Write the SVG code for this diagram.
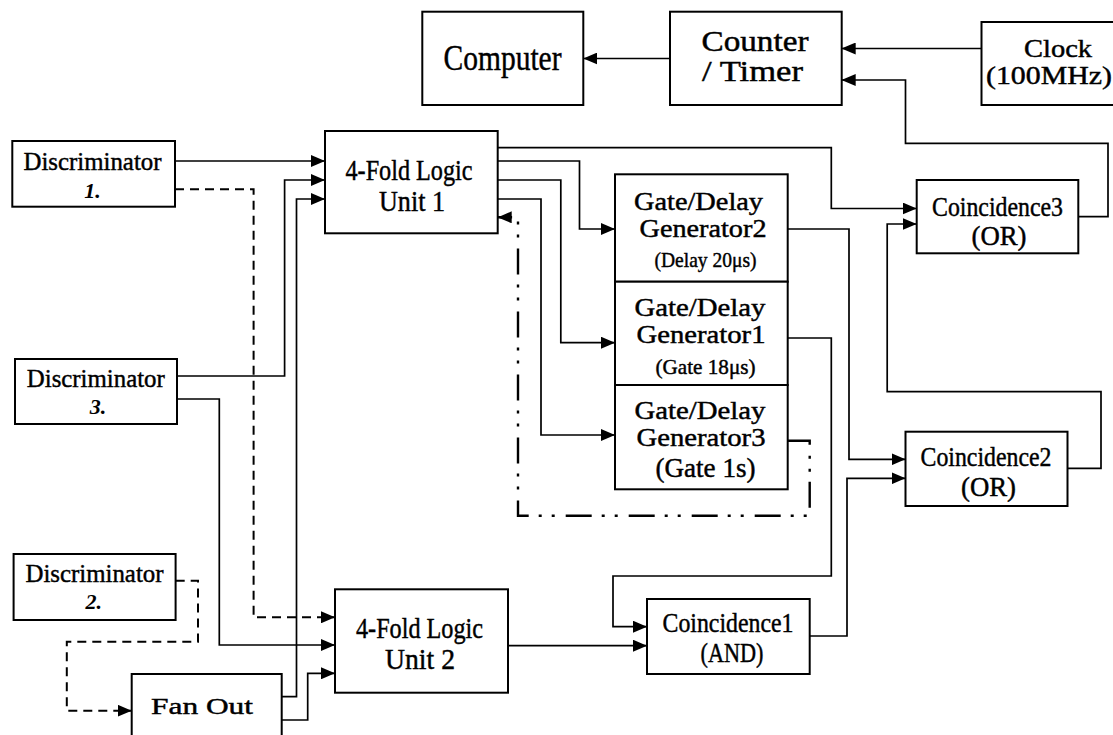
<svg xmlns="http://www.w3.org/2000/svg" width="1113" height="735" viewBox="0 0 1113 735">
<defs>
<marker id="ah" markerUnits="userSpaceOnUse" markerWidth="14" markerHeight="12" refX="14" refY="6" orient="auto"><path d="M0,0 L14,6 L0,12 Z" fill="#000" stroke="none"/></marker>
<style>
.box{fill:#fff;stroke:#000;stroke-width:2}
.ln{fill:none;stroke:#000;stroke-width:1.7}
.ds{fill:none;stroke:#000;stroke-width:2;stroke-dasharray:9 6}
.dd{fill:none;stroke:#000;stroke-width:2.4;stroke-dasharray:26 11 3 10 3 10}
text{font-family:"Liberation Serif","Times New Roman",serif;fill:#000;stroke:#000;stroke-width:0.45;text-anchor:middle}
.c{font-size:26px}
.n{font-size:22px;font-style:italic;font-weight:bold;stroke-width:0}
.lg{font-size:30px}
.g{font-size:26px}
.s{font-size:22px}
</style>
</defs>
<rect width="1113" height="735" fill="#fff"/>
<g id="computer"><rect class="box" x="422.3" y="11.7" width="161" height="93.3"/><text x="502.5" y="70" style="font-size:36px" textLength="118" lengthAdjust="spacingAndGlyphs">Computer</text></g>
<g id="counter"><rect class="box" x="670" y="11.7" width="171.7" height="93.3"/><text x="755" y="51" style="font-size:29px" textLength="107" lengthAdjust="spacingAndGlyphs">Counter</text><text x="752.5" y="81" style="font-size:29px" textLength="101" lengthAdjust="spacingAndGlyphs">/ Timer</text></g>
<g id="clock"><rect class="box" x="981.5" y="22" width="140" height="83"/><text x="1058" y="57" style="font-size:26px" textLength="68" lengthAdjust="spacingAndGlyphs">Clock</text><text x="1049" y="84" style="font-size:26px" textLength="126" lengthAdjust="spacingAndGlyphs">(100MHz)</text></g>
<g id="disc1"><rect class="box" x="12.3" y="141" width="162.7" height="65.7"/><text class="c" x="92.5" y="170" textLength="138" lengthAdjust="spacingAndGlyphs">Discriminator</text><text class="n" x="92.5" y="198">1.</text></g>
<g id="disc3"><rect class="box" x="15" y="359" width="162" height="65"/><text class="c" x="95.8" y="387" textLength="138" lengthAdjust="spacingAndGlyphs">Discriminator</text><text class="n" x="98" y="414">3.</text></g>
<g id="disc2"><rect class="box" x="13.6" y="554" width="162" height="66"/><text class="c" x="94.5" y="582" textLength="138" lengthAdjust="spacingAndGlyphs">Discriminator</text><text class="n" x="93.8" y="609">2.</text></g>
<g id="lu1"><rect class="box" x="325" y="131" width="172.7" height="102.3"/><text class="lg" x="409" y="180" textLength="127" lengthAdjust="spacingAndGlyphs">4-Fold Logic</text><text class="lg" x="412" y="211" textLength="66" lengthAdjust="spacingAndGlyphs">Unit 1</text></g>
<g id="lu2"><rect class="box" x="335" y="589.3" width="173" height="103.4"/><text class="lg" x="419.5" y="638" textLength="127" lengthAdjust="spacingAndGlyphs">4-Fold Logic</text><text class="lg" x="420" y="669" textLength="70" lengthAdjust="spacingAndGlyphs">Unit 2</text></g>
<g id="fanout"><rect class="box" x="131.7" y="674" width="150" height="80"/><text x="202" y="714" style="font-size:24px" textLength="102" lengthAdjust="spacingAndGlyphs">Fan Out</text></g>
<g id="gen2"><rect class="box" x="615" y="174.3" width="172.7" height="107.4"/><text class="g" x="698.5" y="210" textLength="129" lengthAdjust="spacingAndGlyphs">Gate/Delay</text><text class="g" x="703" y="236.5" textLength="127" lengthAdjust="spacingAndGlyphs">Generator2</text><text class="s" x="705.5" y="267" textLength="102" lengthAdjust="spacingAndGlyphs">(Delay 20μs)</text></g>
<g id="gen1"><rect class="box" x="615" y="281.7" width="172.7" height="103.3"/><text class="g" x="700" y="316" textLength="131" lengthAdjust="spacingAndGlyphs">Gate/Delay</text><text class="g" x="701" y="342.5" textLength="129" lengthAdjust="spacingAndGlyphs">Generator1</text><text class="s" x="705.5" y="374" textLength="100" lengthAdjust="spacingAndGlyphs">(Gate 18μs)</text></g>
<g id="gen3"><rect class="box" x="615" y="385" width="172.7" height="104.3"/><text class="g" x="700" y="419" textLength="131" lengthAdjust="spacingAndGlyphs">Gate/Delay</text><text class="g" x="701" y="445.5" textLength="129" lengthAdjust="spacingAndGlyphs">Generator3</text><text x="705.5" y="477" style="font-size:27px" textLength="100" lengthAdjust="spacingAndGlyphs">(Gate 1s)</text></g>
<g id="coinc3"><rect class="box" x="916.7" y="180" width="161.6" height="73.3"/><text x="997.5" y="216" style="font-size:28px" textLength="131" lengthAdjust="spacingAndGlyphs">Coincidence3</text><text x="999" y="245" style="font-size:27px" textLength="55" lengthAdjust="spacingAndGlyphs">(OR)</text></g>
<g id="coinc2"><rect class="box" x="905.5" y="431.7" width="162" height="74.3"/><text x="986" y="466" style="font-size:28px" textLength="131" lengthAdjust="spacingAndGlyphs">Coincidence2</text><text x="988.5" y="496" style="font-size:27px" textLength="55" lengthAdjust="spacingAndGlyphs">(OR)</text></g>
<g id="coinc1"><rect class="box" x="647" y="599" width="162.7" height="75"/><text x="728" y="632" style="font-size:28px" textLength="131" lengthAdjust="spacingAndGlyphs">Coincidence1</text><text x="732" y="662" style="font-size:27px" textLength="63" lengthAdjust="spacingAndGlyphs">(AND)</text></g>
<g id="connectors">
<path class="ln" marker-end="url(#ah)" d="M175,161 H325"/>
<path class="ln" marker-end="url(#ah)" d="M177,376 H284.6 V180 H325"/>
<path class="ln" marker-end="url(#ah)" d="M177,399 H219.3 V645 H335"/>
<path class="ln" marker-end="url(#ah)" d="M281.7,696.7 H296.5 V199 H325"/>
<path class="ln" marker-end="url(#ah)" d="M281.7,720 H307.7 V673.3 H335"/>
<path class="ln" marker-end="url(#ah)" d="M508,645.7 H647"/>
<path class="ln" marker-end="url(#ah)" d="M497.7,147.7 H831.3 V208.5 H916.7"/>
<path class="ln" marker-end="url(#ah)" d="M497.7,161 H579.5 V229 H615"/>
<path class="ln" marker-end="url(#ah)" d="M497.7,180 H560.8 V342.7 H615"/>
<path class="ln" marker-end="url(#ah)" d="M497.7,199 H541 V435 H615"/>
<path class="ln" marker-end="url(#ah)" d="M787.7,229 H849 V459.3 H905.5"/>
<path class="ln" marker-end="url(#ah)" d="M787.7,338 H831.3 V576 H613 V626.7 H647"/>
<path class="ln" marker-end="url(#ah)" d="M809.7,636 H847 V478.3 H905.5"/>
<path class="ln" marker-end="url(#ah)" d="M1067.5,468.3 H1101 V391.7 H887.2 V224 H916.7"/>
<path class="ln" marker-end="url(#ah)" d="M1078.3,216.7 H1108 V143.3 H905.5 V80 H841.7"/>
<path class="ln" marker-end="url(#ah)" d="M981.5,48.5 H841.7"/>
<path class="ln" marker-end="url(#ah)" d="M670,58.5 H583.3"/>
<path class="ds" marker-end="url(#ah)" d="M175,189.3 H253.6 V617.3 H335"/>
<path class="ds" marker-end="url(#ah)" d="M175.7,580.7 H198 V641.7 H66.8 V710.7 H131.7"/>
<path class="dd" marker-end="url(#ah)" d="M787.7,440.7 H809.7 V515.7 H518 V217.3 H497.7"/>
</g>
</svg>
